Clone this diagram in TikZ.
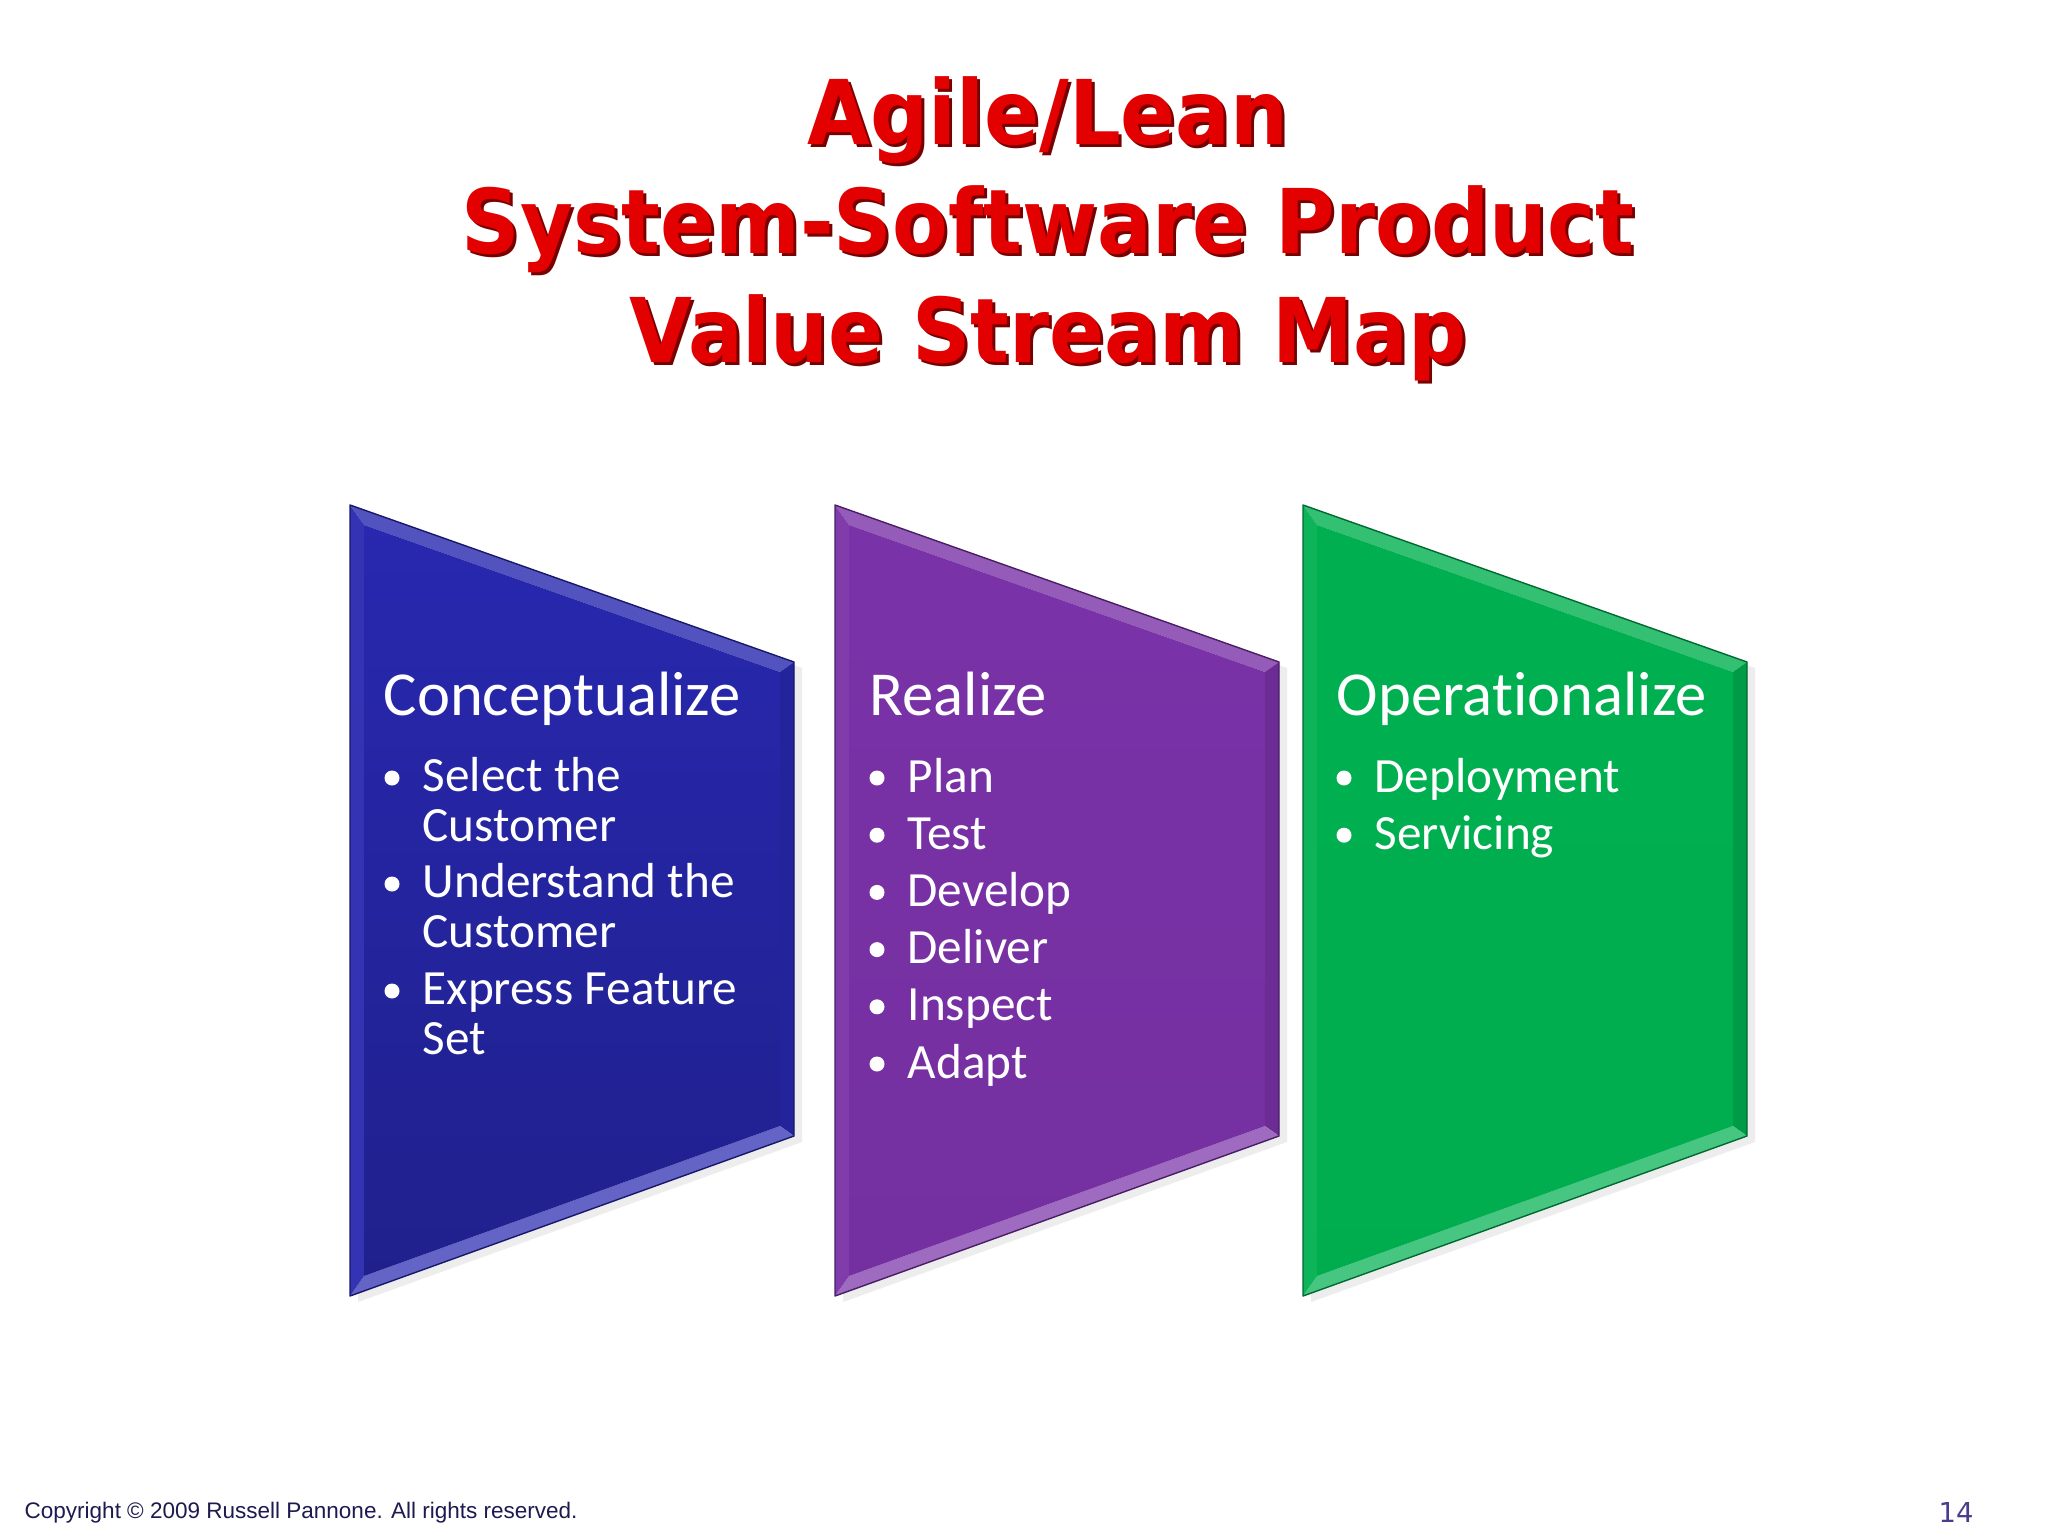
\documentclass[tikz,border=0pt]{standalone}
\usepackage{fontspec}
\setmainfont{Carlito}[Ligatures=NoCommon]
\newfontfamily\titlefont[FakeStretch=0.91]{DejaVu Sans}
\newfontfamily\footfont{Liberation Sans}
\newfontfamily\numfont{DejaVu Sans}
\definecolor{cblue}{RGB}{40,40,176}
\definecolor{cpur}{RGB}{122,50,168}
\definecolor{cgrn}{RGB}{0,176,80}
\definecolor{titlered}{RGB}{226,0,0}
\definecolor{titledark}{RGB}{120,0,0}
\definecolor{footnavy}{RGB}{30,26,80}
\definecolor{numpur}{RGB}{75,60,140}
\begin{document}
\begin{tikzpicture}[x=0.01cm, y=-0.01cm, line join=round, line cap=round,
  head/.style={anchor=base west, text=white, inner sep=0, font=\fontsize{17.8}{20}\selectfont},
  item/.style={anchor=base west, text=white, inner sep=0, align=left, font=\fontsize{14}{14.1}\selectfont},
  bul/.style={circle, fill=white, inner sep=0, minimum size=0.15cm},
  ttl/.style={anchor=base, align=center, inner sep=0, font=\titlefont\bfseries\fontsize{25.4}{30.9}\selectfont}]
  \fill[white] (0,0) rectangle (2048,1536);
  \useasboundingbox (0,0) rectangle (2048,1536);
  \node[ttl, text=titledark] (title-sh) at (1051,365) {Agile/Lean\\System-Software Product\\Value Stream Map};
  \node[ttl, text=titlered] (title) at (1048,362) {Agile/Lean\\System-Software Product\\Value Stream Map};
  \foreach \L/\c/\n/\k in {350/cblue/blu/80, 835/cpur/pur/95, 1303/cgrn/grn/98}{
    \fill[black!7] (\L+8,511) -- (\L+452,668) -- (\L+452,1142) -- (\L+8,1302) -- cycle;
    \coordinate (\n-tl) at (\L,505); \coordinate (\n-tr) at (\L+444,662);
    \coordinate (\n-br) at (\L+444,1136); \coordinate (\n-bl) at (\L,1296);
    \coordinate (\n-itl) at (\L+14,525); \coordinate (\n-itr) at (\L+430,672);
    \coordinate (\n-ibr) at (\L+430,1126); \coordinate (\n-ibl) at (\L+14,1276);
    \fill[\c!80!white] (\n-tl) -- (\n-tr) -- (\n-itr) -- (\n-itl) -- cycle;
    \fill[\c!88!black] (\n-tr) -- (\n-br) -- (\n-ibr) -- (\n-itr) -- cycle;
    \fill[\c!72!white] (\n-br) -- (\n-bl) -- (\n-ibl) -- (\n-ibr) -- cycle;
    \fill[\c!95!white] (\n-bl) -- (\n-tl) -- (\n-itl) -- (\n-ibl) -- cycle;
    \shade[top color=\c, bottom color=\c!\k!black] (\n-itl) -- (\n-itr) -- (\n-ibr) -- (\n-ibl) -- cycle;
    \draw[\c!60!black, line width=0.4pt] (\n-tl) -- (\n-tr) -- (\n-br) -- (\n-bl) -- cycle;
  }
  \node[head] (conc) at (383,715) {Conceptualize};
  \foreach \y/\t [count=\i] in {792/{Select the\\Customer}, 898/{Understand the\\Customer}, 1005/{Express Feature\\Set}}{
    \node[bul] (conc-b\i) at (392,\y-14) {};
    \node[item] (conc-\i) at (422,\y+49.5) {\t};
  }
  \node[head] (real) at (869,715) {Realize};
  \foreach \t [count=\i] in {Plan, Test, Develop, Deliver, Inspect, Adapt}{
    \node[bul] (real-b\i) at (877,792+57.2*\i-57.2-14) {};
    \node[item] (real-\i) at (907,792+57.2*\i-57.2) {\t};
  }
  \node[head] (oper) at (1336,715) {Operationalize};
  \foreach \t [count=\i] in {Deployment, Servicing}{
    \node[bul] (oper-b\i) at (1344,792+57.2*\i-57.2-14) {};
    \node[item] (oper-\i) at (1374,792+57.2*\i-57.2) {\t};
  }
  \node[anchor=base west, inner sep=0, text=footnavy, font=\footfont\fontsize{6.4}{7}\selectfont] (copy) at (24,1518) {Copyright © 2009 Russell Pannone. All rights reserved.};
  \node[anchor=base west, inner sep=0, text=numpur, font=\numfont\fontsize{7.8}{9}\selectfont] (pnum) at (1938,1522) {14};
\end{tikzpicture}
\end{document}
